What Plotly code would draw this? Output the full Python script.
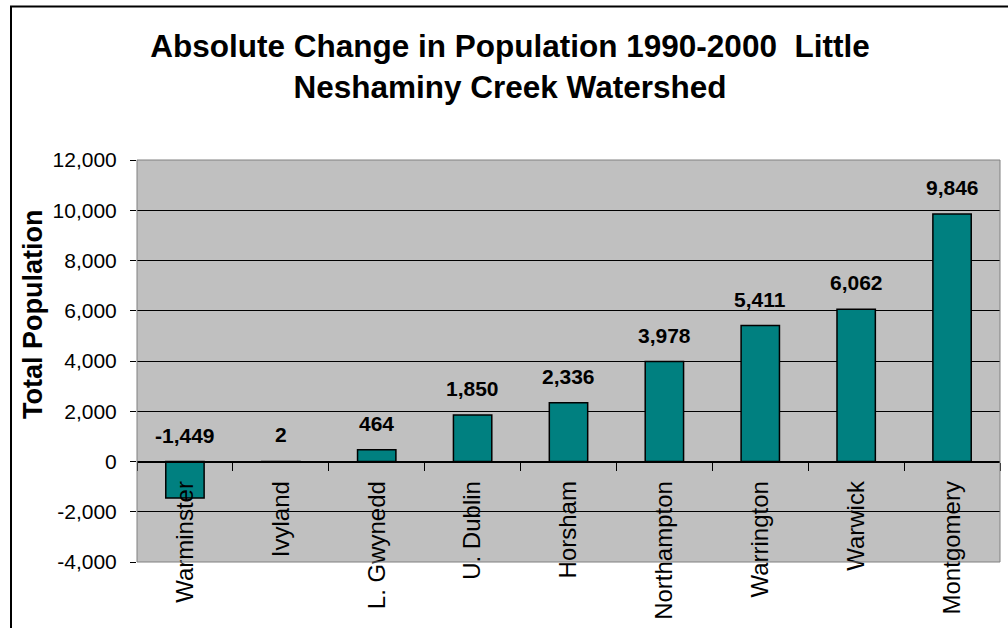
import plotly.graph_objects as go

# Municipalities in the Little Neshaminy Creek watershed
municipalities = ["Warminster", "Ivyland", "L. Gwynedd", "U. Dublin", "Horsham",
                  "Northampton", "Warrington", "Warwick", "Montgomery"]
# Absolute change in population, 1990-2000
pop_change = [-1449, 2, 464, 1850, 2336, 3978, 5411, 6062, 9846]

# Value-axis ticks
y_ticks = [-4000, -2000, 0, 2000, 4000, 6000, 8000, 10000, 12000]
y_tick_text = ["-4,000", "-2,000", "0", "2,000", "4,000", "6,000", "8,000", "10,000", "12,000"]

FONT = "Arial, 'Liberation Sans', sans-serif"
W, H = 1008, 628
ML, MR, MT, MB = 137, 8, 160, 66
PW, PH = W - ML - MR, H - MT - MB


def px_x(px):
    return (px - ML) / PW


def px_y(py):
    return (H - MB - py) / PH


fig = go.Figure()
fig.add_trace(go.Bar(
    x=municipalities,
    y=pop_change,
    marker=dict(color="#008080", line=dict(color="black", width=1.5)),
    hoverinfo="x+y",
))

# Value labels sit above each bar (or above the zero line for decreases)
annotations = []
for name, v in zip(municipalities, pop_change):
    annotations.append(dict(
        x=name, y=max(v, 0), xref="x", yref="y",
        text=f"{v:,}", showarrow=False,
        yanchor="bottom", yshift=13,
        font=dict(family=FONT, size=21, color="black", weight="bold"),
    ))

# Value-axis title
annotations.append(dict(
    x=px_x(33), y=px_y(315), xref="paper", yref="paper",
    text="Total Population", textangle=-90, showarrow=False,
    xanchor="center", yanchor="middle",
    font=dict(family=FONT, size=27, color="black", weight="bold"),
))

shapes = [
    # plot-area frame
    dict(type="rect", xref="paper", yref="paper", x0=0, x1=1, y0=0, y1=1,
         line=dict(color="#808080", width=1), layer="above"),
    # chart-area frame
    dict(type="rect", xref="paper", yref="paper",
         x0=px_x(11), x1=px_x(1020), y0=px_y(6.5), y1=px_y(700),
         line=dict(color="black", width=2), layer="above"),
]

fig.update_layout(
    width=W, height=H,
    margin=dict(l=ML, r=MR, t=MT, b=MB),
    paper_bgcolor="white",
    plot_bgcolor="#C0C0C0",
    showlegend=False,
    bargap=0.6,
    title=dict(
        text="Absolute Change in Population 1990-2000\u00a0 Little<br>Neshaminy Creek Watershed",
        x=510 / W, xref="container", xanchor="center",
        y=1 - 57 / H, yref="container", yanchor="top",
        font=dict(family=FONT, size=31.5, color="black", weight="bold"),
    ),
    xaxis=dict(
        type="category",
        anchor="free", position=0.25,
        showline=True, linecolor="black", linewidth=1,
        ticks="outside", ticklen=8, tickcolor="black", tickwidth=1,
        tickson="boundaries",
        tickangle=-90,
        tickfont=dict(family=FONT, size=24, color="black"),
        showgrid=False, zeroline=False,
        ticklabelstandoff=9,
    ),
    yaxis=dict(
        range=[-4000, 12000],
        tickvals=y_ticks, ticktext=y_tick_text,
        showgrid=True, gridcolor="black", gridwidth=1,
        zeroline=False,
        showline=False,
        ticks="outside", ticklen=6, tickcolor="black", tickwidth=1,
        tickfont=dict(family=FONT, size=21, color="black"),
        ticklabelstandoff=9,
    ),
    annotations=annotations,
    shapes=shapes,
)

fig.write_html("out.html")
